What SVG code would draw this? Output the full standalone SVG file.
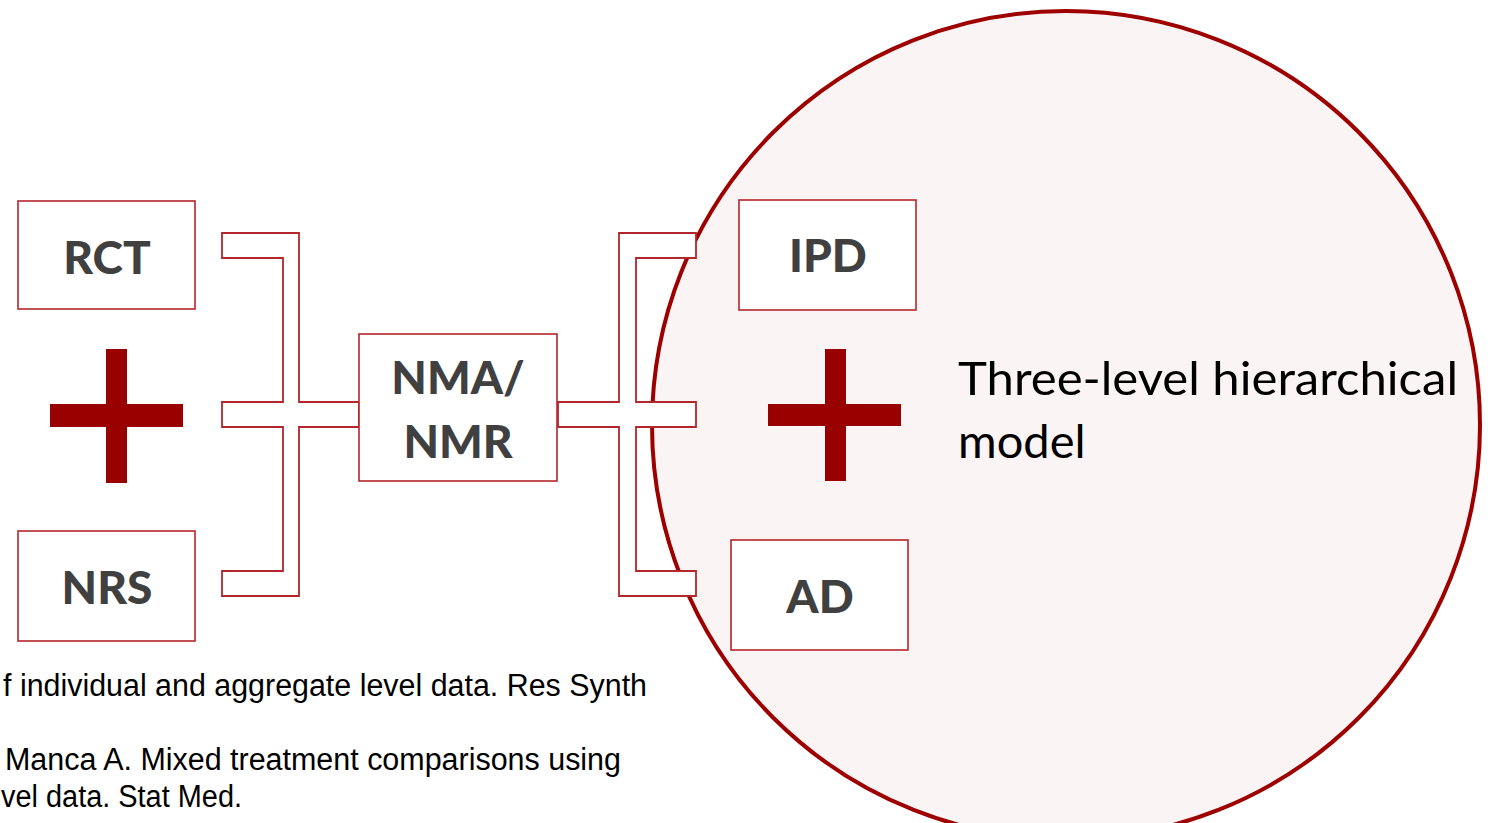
<svg xmlns="http://www.w3.org/2000/svg" width="1491" height="823" viewBox="0 0 1491 823">
<style>
.box{fill:#fff;stroke:#b3262b;stroke-width:1.6}
.br{fill:#fff;stroke:#b3262b;stroke-width:1.8}
.plus{fill:#990000}
.lbl{font-family:Lato,"Open Sans",sans-serif;font-weight:900;font-size:46px;fill:#404040;text-anchor:middle}
.big{font-family:Lato,"Open Sans",sans-serif;font-size:47px;fill:#000}
.ref{font-family:"Liberation Sans",Arial,sans-serif;font-size:31px;fill:#000}
</style>
<rect width="1491" height="823" fill="#fff"/>
<g id="model">
<circle cx="1066" cy="425" r="414" fill="#fbf4f4" stroke="#9e0000" stroke-width="4"/>
<text class="big" x="958" y="395" textLength="500" lengthAdjust="spacingAndGlyphs">Three-level hierarchical</text>
<text class="big" x="958" y="458">model</text>
</g>
<g id="connectors">
<polygon class="br" points="222,233 299,233 299,402 359,402 359,427 299,427 299,596 222,596 222,571 283,571 283,427 222,427 222,402 283,402 283,258 222,258"/>
<polygon class="br" points="558,402 619,402 619,233 696,233 696,258 636,258 636,402 696,402 696,427 636,427 636,571 696,571 696,596 619,596 619,427 558,427"/>
</g>
<g id="rct"><rect class="box" x="18" y="201" width="177" height="108"/><text class="lbl" x="107" y="274">RCT</text></g>
<g id="plus-left"><rect class="plus" x="106" y="349" width="21" height="134"/><rect class="plus" x="50" y="404" width="133" height="23"/></g>
<g id="nrs"><rect class="box" x="18" y="531" width="177" height="110"/><text class="lbl" x="107" y="604">NRS</text></g>
<g id="nma"><rect class="box" x="359" y="334" width="198" height="147"/><text class="lbl" x="458" y="394">NMA/</text><text class="lbl" x="458" y="458">NMR</text></g>
<g id="ipd"><rect class="box" x="739" y="200" width="177" height="110"/><text class="lbl" x="828" y="272">IPD</text></g>
<g id="plus-right"><rect class="plus" x="825" y="349" width="21" height="132"/><rect class="plus" x="768" y="404" width="133" height="22"/></g>
<g id="ad"><rect class="box" x="731" y="540" width="177" height="110"/><text class="lbl" x="820" y="613">AD</text></g>
<g id="refs">
<text class="ref" x="3" y="696" textLength="644" lengthAdjust="spacingAndGlyphs">f individual and aggregate level data. Res Synth</text>
<text class="ref" x="5" y="770" textLength="616" lengthAdjust="spacingAndGlyphs">Manca A. Mixed treatment comparisons using</text>
<text class="ref" x="1" y="807" textLength="241" lengthAdjust="spacingAndGlyphs">vel data. Stat Med.</text>
</g>
</svg>
